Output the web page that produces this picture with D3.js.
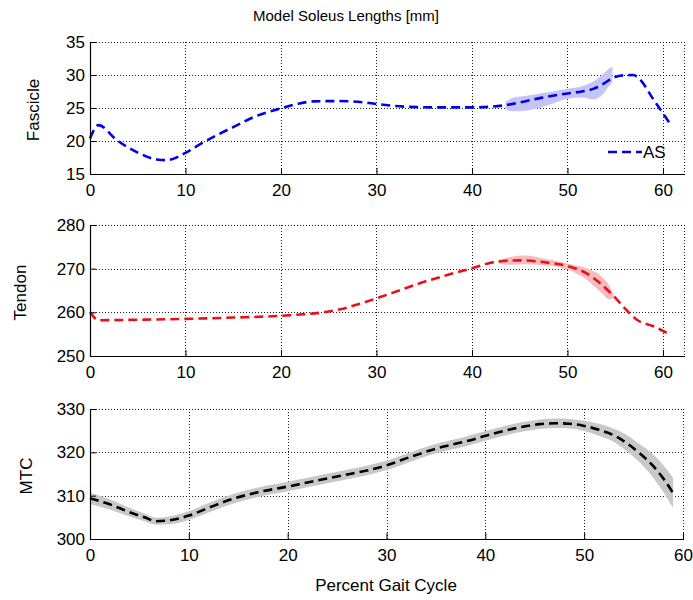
<!DOCTYPE html>
<html>
<head>
<meta charset="utf-8">
<script src="https://cdn.jsdelivr.net/npm/d3@7"></script>
<style>
  body { margin: 0; background: #fff; }
  svg { display: block; font-family: Arial, "Liberation Sans", sans-serif; }
</style>
</head>
<body>
<svg id="chart" width="693" height="600"></svg>
<script>
// ---------- DATA ----------
const fasX = [0, 0.9, 2.8, 5.2, 7, 8, 10, 11.5, 13.3, 15, 17.1, 20, 21.7, 23.4, 26, 28, 30, 33, 36, 40, 42, 43.6, 45.5, 47.1, 50, 51.5, 52.7, 53.8, 54.8, 55.8, 56.9, 57.4, 59, 60.7];
const fasY = [20.4, 22.4, 20.15, 18.1, 17.2, 17.1, 18.2, 19.5, 20.9, 22.1, 23.6, 24.95, 25.6, 26.0, 26.05, 25.95, 25.6, 25.2, 25.1, 25.1, 25.2, 25.45, 26.0, 26.5, 27.2, 27.5, 27.9, 28.7, 29.6, 29.95, 30.0, 29.6, 26.3, 22.7];
const fasBandX = [43.5, 44.2, 45.5, 46.7, 48.5, 50, 51.5, 52.7, 53.7, 54.4, 54.7];
const fasBandLo = [24.8, 24.5, 24.6, 24.9, 25.7, 26.4, 26.6, 26.3, 27.1, 28.4, 28.9];
const fasBandHi = [25.9, 26.5, 26.8, 27.1, 27.5, 27.9, 28.3, 29.0, 30.1, 31.0, 31.2];

const tenX = [0, 0.9, 5, 10, 15, 20, 22, 24.1, 26.2, 28, 30, 32.5, 35, 37.5, 40, 42.6, 45, 47.8, 50, 52, 53.5, 54.8, 56.5, 57.2, 59, 60.5];
const tenY = [260.1, 258.2, 258.3, 258.5, 258.8, 259.2, 259.5, 259.9, 260.7, 261.8, 263.2, 265.1, 267.0, 268.6, 270.1, 271.6, 271.9, 271.4, 270.6, 268.9, 266.5, 263.8, 259.8, 258.4, 256.8, 255.2];
const tenBandX = [42.8, 44, 45.5, 47.5, 50, 52, 53.5, 54.4, 54.8];
const tenBandLo = [271.2, 270.9, 271.0, 270.8, 269.8, 267.5, 264.6, 263.0, 263.4];
const tenBandHi = [271.9, 272.7, 273.0, 272.3, 271.2, 270.1, 268.3, 266.0, 264.3];

const mtcX = [0, 2, 4, 5.5, 6.7, 8, 10, 12, 14.5, 17, 20, 23, 26.3, 28, 30, 32.5, 35.4, 38, 40, 42, 43.8, 45.5, 47.2, 48.5, 50, 51.5, 53.3, 54.5, 55.6, 57, 58, 59];
const mtcY = [309.4, 308.0, 306.2, 305.0, 304.1, 304.3, 305.4, 307.2, 309.3, 310.8, 312.1, 313.5, 315.0, 315.8, 317.0, 319.0, 321.1, 322.5, 323.8, 325.0, 325.9, 326.5, 326.7, 326.6, 326.1, 325.2, 323.6, 321.8, 319.8, 316.8, 314.0, 310.6];
const mtcSD = [1.3, 1.2, 1.0, 0.9, 0.8, 0.9, 1.0, 1.1, 1.1, 1.1, 1.1, 1.1, 1.1, 1.1, 1.1, 1.1, 1.1, 1.1, 1.1, 1.1, 1.1, 1.1, 1.1, 1.1, 1.2, 1.4, 1.6, 1.9, 2.1, 2.7, 3.1, 3.5];

const fasTicksY = [15, 20, 25, 30, 35];
const tenTicksY = [250, 260, 270, 280];
const mtcTicksY = [300, 310, 320, 330];
const xTicks = [0, 10, 20, 30, 40, 50, 60];

const title = "Model Soleus Lengths [mm]";
const xLabel = "Percent Gait Cycle";
const legendLabel = "AS";

// ---------- DRAW ----------
const svg = d3.select("#chart");
const FONT = 17;

function panel(cfg) {
  const x = d3.scaleLinear().domain(cfg.xDomain).range([cfg.left, cfg.right]);
  const y = d3.scaleLinear().domain(cfg.yDomain).range([cfg.bottom, cfg.top]);
  const g = svg.append("g");

  // grid
  const grid = g.append("g").attr("stroke", "#222").attr("stroke-width", 1)
    .attr("stroke-dasharray", "1,2").attr("fill", "none").attr("shape-rendering", "crispEdges");
  xTicks.forEach(t => {
    if (t > 0) grid.append("line").attr("x1", Math.round(x(t)) + 0.5).attr("x2", Math.round(x(t)) + 0.5)
      .attr("y1", cfg.top).attr("y2", cfg.bottom);
  });
  grid.append("line").attr("x1", Math.round(cfg.right) + 0.5).attr("x2", Math.round(cfg.right) + 0.5)
    .attr("y1", cfg.top).attr("y2", cfg.bottom);
  cfg.yTicks.forEach(t => {
    if (t > cfg.yDomain[0]) grid.append("line").attr("y1", Math.round(y(t)) + 0.5).attr("y2", Math.round(y(t)) + 0.5)
      .attr("x1", cfg.left).attr("x2", cfg.right);
  });

  // band
  const bandData = cfg.bandX.map((v, i) => ({x: v, lo: cfg.bandLo[i], hi: cfg.bandHi[i]}));
  g.append("path").datum(bandData)
    .attr("fill", cfg.bandColor).attr("stroke", "none")
    .attr("d", d3.area().x(d => x(d.x)).y0(d => y(d.lo)).y1(d => y(d.hi)).curve(d3.curveMonotoneX));

  // line
  const lineData = cfg.lx.map((v, i) => ({x: v, y: cfg.ly[i]}));
  g.append("path").datum(lineData)
    .attr("fill", "none").attr("stroke", cfg.color).attr("stroke-width", 2.6)
    .attr("stroke-dasharray", "9,5")
    .attr("d", d3.line().x(d => x(d.x)).y(d => y(d.y)).curve(d3.curveMonotoneX));

  // axes
  const xa = d3.axisBottom(x).tickValues(xTicks).tickSize(-6).tickPadding(10).tickFormat(d3.format("d"));
  const ya = d3.axisLeft(y).tickValues(cfg.yTicks).tickSize(-6).tickPadding(5).tickFormat(d3.format("d"));
  const gx = g.append("g").attr("transform", `translate(0,${cfg.bottom})`).call(xa);
  const gy = g.append("g").attr("transform", `translate(${cfg.left},0)`).call(ya);
  [gx, gy].forEach(a => {
    a.select(".domain").remove();
    a.selectAll("line").attr("stroke", "#000").attr("stroke-width", 1);
    a.selectAll("text").attr("font-size", FONT).attr("fill", "#000")
      .attr("font-family", "Arial, 'Liberation Sans', sans-serif");
  });
  gx.selectAll("text").attr("dy", "0.71em");
  g.append("line").attr("x1", cfg.left).attr("x2", cfg.right + 1).attr("y1", cfg.bottom + 0.5).attr("y2", cfg.bottom + 0.5)
    .attr("stroke", "#000").attr("stroke-width", 1.2);
  g.append("line").attr("x1", cfg.left + 0.5).attr("x2", cfg.left + 0.5).attr("y1", cfg.top).attr("y2", cfg.bottom + 1)
    .attr("stroke", "#000").attr("stroke-width", 1.2);

  // y label
  g.append("text").attr("transform", `translate(${cfg.ylabX},${(cfg.top + cfg.bottom) / 2 + 2}) rotate(-90)`)
    .attr("text-anchor", "middle").attr("font-size", FONT).attr("fill", "#000").text(cfg.ylabel);

  return {x, y, g};
}

panel({
  xDomain: [0, 62.2], yDomain: [15, 35], left: 90, right: 684, top: 42, bottom: 174,
  yTicks: fasTicksY, lx: fasX, ly: fasY, bandX: fasBandX, bandLo: fasBandLo, bandHi: fasBandHi,
  color: "#0000ee", bandColor: "#c4c4f6", ylabel: "Fascicle", ylabX: 39
});
panel({
  xDomain: [0, 62.2], yDomain: [250, 280], left: 90, right: 684, top: 225, bottom: 356,
  yTicks: tenTicksY, lx: tenX, ly: tenY, bandX: tenBandX, bandLo: tenBandLo, bandHi: tenBandHi,
  color: "#e8101a", bandColor: "#f6bcbc", ylabel: "Tendon", ylabX: 26
});
panel({
  xDomain: [0, 60], yDomain: [300, 330], left: 90, right: 683, top: 409, bottom: 539,
  yTicks: mtcTicksY, lx: mtcX, ly: mtcY, bandX: mtcX,
  bandLo: mtcY.map((v, i) => v - mtcSD[i]), bandHi: mtcY.map((v, i) => v + mtcSD[i]),
  color: "#000", bandColor: "#c8c8c8", ylabel: "MTC", ylabX: 32
});

// legend
svg.append("line").attr("x1", 608).attr("x2", 642).attr("y1", 152).attr("y2", 152)
  .attr("stroke", "#0000ee").attr("stroke-width", 2.6).attr("stroke-dasharray", "9,5");
svg.append("text").attr("x", 643).attr("y", 158).attr("font-size", FONT).attr("fill", "#000").text(legendLabel);

// title & x label
svg.append("text").attr("x", 346).attr("y", 21).attr("text-anchor", "middle")
  .attr("font-size", 15).attr("fill", "#000").text(title);
svg.append("text").attr("x", 386).attr("y", 591).attr("text-anchor", "middle")
  .attr("font-size", FONT).attr("fill", "#000").text(xLabel);
</script>
</body>
</html>
